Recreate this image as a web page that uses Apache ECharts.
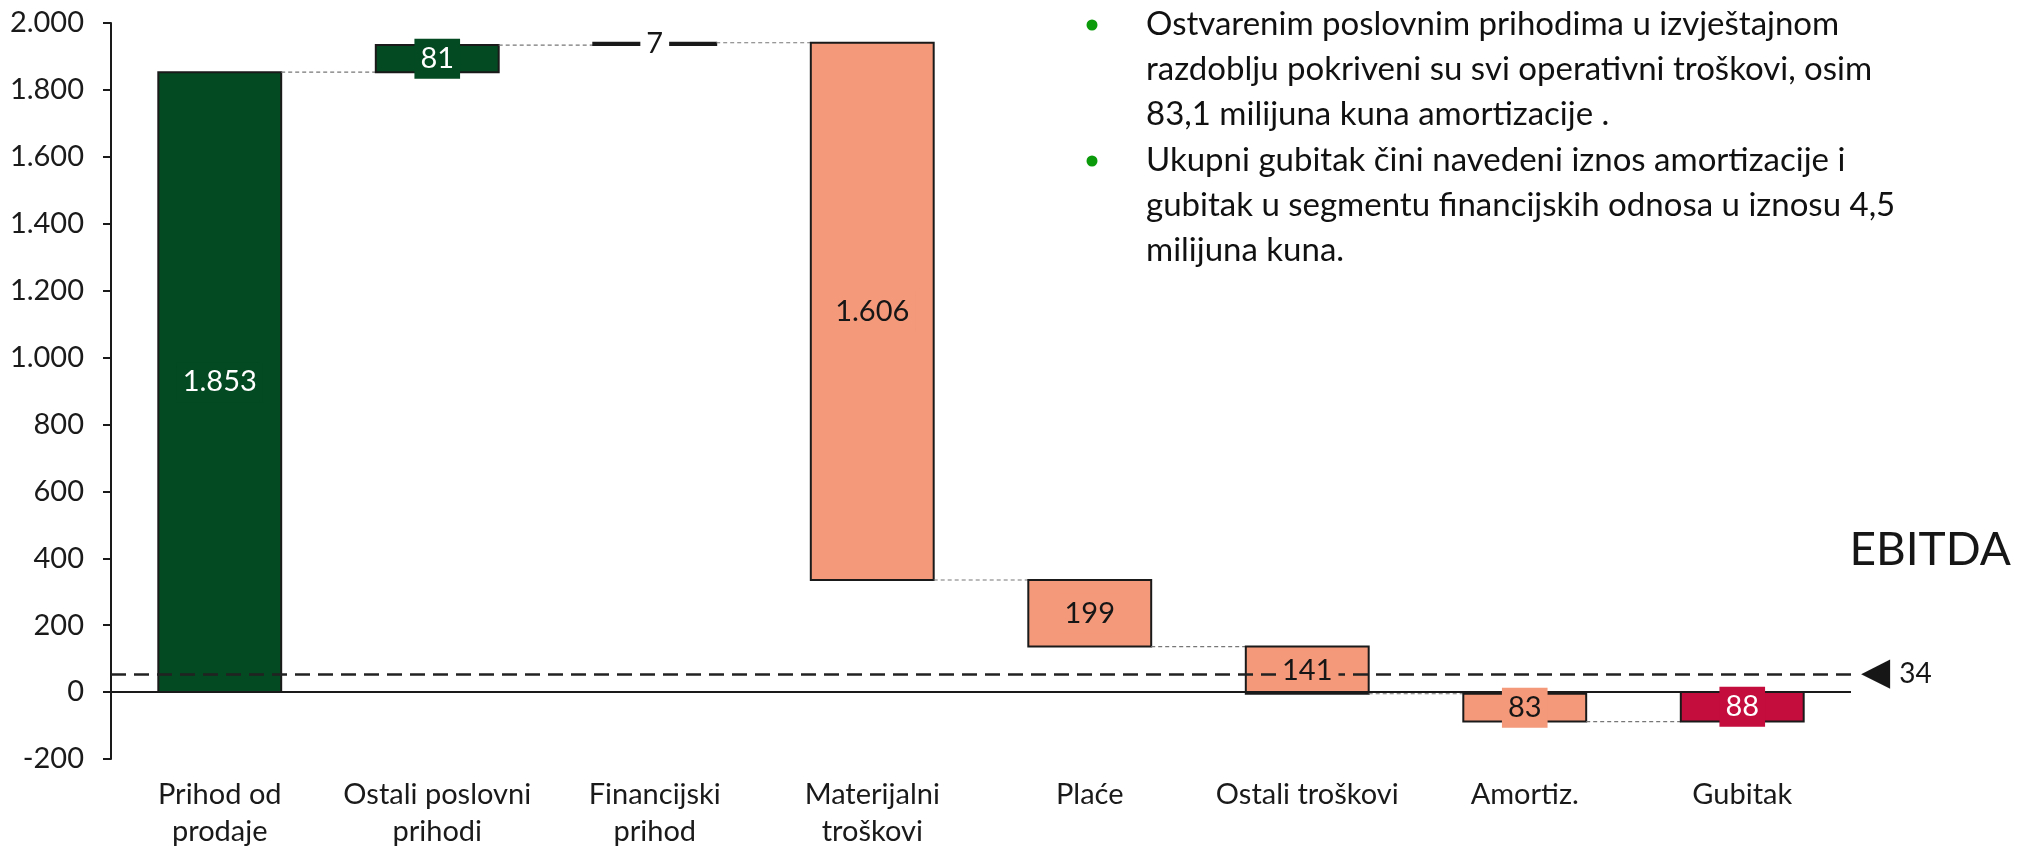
<!DOCTYPE html>
<html>
<head>
<meta charset="utf-8">
<script src="https://cdn.jsdelivr.net/npm/echarts@6/dist/echarts.min.js"></script>
<style>
html,body{margin:0;padding:0;background:#fff;}
#chart{width:2024px;height:850px;}
</style>
</head>
<body>
<div id="chart"></div>
<script>
// ---- data ----
const categories = ['Prihod od\nprodaje', 'Ostali poslovni\nprihodi', 'Financijski\nprihod', 'Materijalni\ntroškovi', 'Plaće', 'Ostali troškovi', 'Amortiz.', 'Gubitak'];
const deltas = [1853, 81, 7, -1606, -199, -141, -83, -88];
const isTotal = [true, false, false, false, false, false, false, true];
const yTicks = { min: -200, max: 2000, interval: 200 };
const ebitdaLabel = '34';
const ebitdaLevel = 53;   // level at which the dashed EBITDA line is drawn in the picture
const bulletTexts = [
  'Ostvarenim poslovnim prihodima u izvještajnom\nrazdoblju pokriveni su svi operativni troškovi, osim\n83,1 milijuna kuna amortizacije .',
  'Ukupni gubitak čini navedeni iznos amortizacije i\ngubitak u segmentu financijskih odnosa u iznosu 4,5\nmilijuna kuna.'
];

// ---- styles ----
const GREEN = '#034A22', SALMON = '#F4997A', CRIMSON = '#C40D3C', BLACK = '#161616';
const barColors = [GREEN, GREEN, BLACK, SALMON, SALMON, SALMON, SALMON, CRIMSON];
const labelBg = [GREEN, GREEN, '#ffffff', SALMON, SALMON, SALMON, SALMON, CRIMSON];
const labelFg = ['#ffffff', '#ffffff', BLACK, BLACK, BLACK, BLACK, BLACK, '#ffffff'];
const FONT = 'Lato';

function fmt(v) {
  const s = String(Math.abs(v)).replace(/\B(?=(\d{3})+(?!\d))/g, '.');
  return (v < 0 ? '-' : '') + s;
}

// build waterfall rows: [index, low, high, runningEnd]
let run = 0;
const rows = deltas.map((d, i) => {
  let lo, hi;
  if (isTotal[i]) { lo = Math.min(0, d); hi = Math.max(0, d); run = d; }
  else { const s = run; run = s + d; lo = Math.min(s, run); hi = Math.max(s, run); }
  return [i, lo, hi, run];
});

const chart = echarts.init(document.getElementById('chart'), null, { renderer: 'canvas' });

function barItem(params, api) {
  const i = api.value(0), lo = api.value(1), hi = api.value(2), end = api.value(3);
  const bw = api.size([1, 0])[0] * 0.565;
  const pTop = api.coord([i, hi]);
  const pBot = api.coord([i, lo]);
  const children = [{
    type: 'rect',
    shape: { x: pTop[0] - bw / 2, y: pTop[1], width: bw, height: Math.max(pBot[1] - pTop[1], 1) },
    style: { fill: barColors[i], stroke: '#1a1a1a', lineWidth: 2 }
  }];
  if (i < rows.length - 1) {
    const y = api.coord([i, end])[1];
    const nx = api.coord([i + 1, end])[0];
    children.push({
      type: 'line',
      shape: { x1: pTop[0] + bw / 2, y1: y, x2: nx - bw / 2, y2: y },
      style: { stroke: '#777', lineWidth: 1.2, lineDash: [4, 3] }
    });
  }
  return { type: 'group', children };
}

function labelItem(params, api) {
  const i = api.value(0), lo = api.value(1), hi = api.value(2);
  const p = api.coord([i, (lo + hi) / 2]);
  return {
    type: 'text',
    x: p[0], y: p[1],
    style: {
      text: fmt(Math.abs(deltas[i])),
      fill: labelFg[i],
      font: '29px ' + FONT,
      align: 'center',
      verticalAlign: 'middle',
      backgroundColor: labelBg[i],
      padding: [4, 6, 4, 6],
      lineHeight: 32
    }
  };
}

const option = {
  animation: false,
  backgroundColor: '#ffffff',
  textStyle: { fontFamily: FONT },
  grid: { left: 111, right: 173, top: 23, bottom: 91, containLabel: false },
  title: {
    text: 'EBITDA', right: 8, top: 522,
    textStyle: { fontFamily: FONT, fontSize: 46, fontWeight: 'normal', color: '#161616' }
  },
  xAxis: {
    type: 'category',
    data: categories,
    axisLine: { show: false },
    axisTick: { show: false },
    axisLabel: { interval: 0, fontSize: 29, lineHeight: 37, margin: 17, color: '#1a1a1a', fontFamily: FONT },
    splitLine: { show: false }
  },
  yAxis: {
    type: 'value',
    min: yTicks.min, max: yTicks.max, interval: yTicks.interval,
    axisLine: { show: true, lineStyle: { color: '#1a1a1a', width: 2 } },
    axisTick: { show: true, length: 8, lineStyle: { color: '#1a1a1a', width: 2 } },
    axisLabel: { fontSize: 29, margin: 27, color: '#1a1a1a', fontFamily: FONT, formatter: fmt },
    splitLine: { show: false }
  },
  graphic: [
    { type: 'circle', shape: { cx: 1092, cy: 25, r: 5.5 }, style: { fill: '#0A9A0A' } },
    { type: 'circle', shape: { cx: 1092, cy: 161, r: 5.5 }, style: { fill: '#0A9A0A' } },
    { type: 'text', left: 1146, top: 2, style: { text: bulletTexts[0], fontFamily: FONT, fontSize: 33, lineHeight: 45, fill: '#111111' } },
    { type: 'text', left: 1146, top: 138, style: { text: bulletTexts[1], fontFamily: FONT, fontSize: 33, lineHeight: 45, fill: '#111111' } }
  ],
  series: [
    {
      type: 'custom', name: 'bars', z: 2,
      renderItem: barItem,
      encode: { x: 0, y: [1, 2] },
      data: rows
    },
    {
      type: 'line', name: 'refs', z: 3, data: [], silent: true,
      markLine: {
        silent: true, symbol: ['none', 'none'], animation: false,
        data: [
          { yAxis: 0, lineStyle: { color: '#1a1a1a', width: 2, type: 'solid' }, label: { show: false } },
          {
            yAxis: ebitdaLevel,
            lineStyle: { color: '#222', width: 2.5, type: [15, 8] },
            label: {
              show: true, position: 'end', distance: 10,
              formatter: '{t|◀} {v|' + ebitdaLabel + '}',
              rich: {
                t: { fontFamily: 'DejaVu Sans', fontSize: 38, color: '#161616' },
                v: { fontFamily: FONT, fontSize: 28, color: '#161616', padding: [0, 0, 0, 6] }
              }
            }
          }
        ]
      }
    },
    {
      type: 'custom', name: 'labels', z: 5,
      renderItem: labelItem,
      encode: { x: 0, y: [1, 2] },
      data: rows
    }
  ]
};
chart.setOption(option);
</script>
</body>
</html>
